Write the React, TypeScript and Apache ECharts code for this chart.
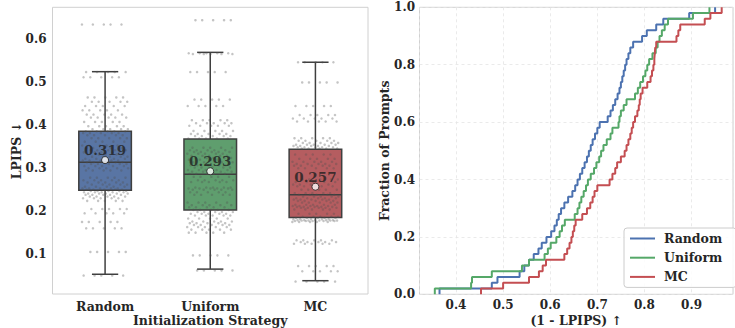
import React, { useEffect, useRef } from "react";
import * as echarts from "echarts";

// ---------- data ----------
const STRATEGIES = ["Random", "Uniform", "MC"];

// per-prompt similarity (1 - LPIPS), sorted (50 prompts each)
const RANDOM_SIM = [
  0.365, 0.476, 0.488, 0.535, 0.545, 0.555, 0.565, 0.575, 0.582, 0.592,
  0.602, 0.609, 0.614, 0.618, 0.623, 0.630, 0.638, 0.647, 0.653, 0.658,
  0.663, 0.668, 0.673, 0.678, 0.682, 0.686, 0.690, 0.695, 0.700, 0.705,
  0.722, 0.728, 0.733, 0.738, 0.743, 0.747, 0.750, 0.753, 0.756, 0.759,
  0.762, 0.766, 0.770, 0.776, 0.795, 0.805, 0.825, 0.840, 0.895, 0.950,
];
const UNIFORM_SIM = [
  0.355, 0.432, 0.434, 0.476, 0.540, 0.555, 0.588, 0.595, 0.601, 0.613,
  0.620, 0.625, 0.631, 0.652, 0.658, 0.662, 0.666, 0.671, 0.676, 0.680,
  0.686, 0.693, 0.698, 0.704, 0.708, 0.713, 0.720, 0.728, 0.732, 0.745,
  0.747, 0.750, 0.756, 0.762, 0.780, 0.786, 0.791, 0.797, 0.802, 0.806,
  0.810, 0.817, 0.824, 0.828, 0.832, 0.837, 0.843, 0.850, 0.903, 0.938,
];
const MC_SIM = [
  0.453, 0.500, 0.555, 0.576, 0.584, 0.591, 0.630, 0.636, 0.641, 0.645,
  0.648, 0.651, 0.654, 0.668, 0.678, 0.685, 0.690, 0.694, 0.700, 0.726,
  0.732, 0.738, 0.742, 0.750, 0.758, 0.762, 0.766, 0.770, 0.773, 0.776,
  0.780, 0.785, 0.788, 0.790, 0.792, 0.796, 0.806, 0.813, 0.816, 0.819,
  0.821, 0.822, 0.823, 0.825, 0.868, 0.872, 0.876, 0.928, 0.940, 0.964,
];
const SIM_DATA = [RANDOM_SIM, UNIFORM_SIM, MC_SIM];
const SAMPLES_PER_PROMPT = 5;

// box statistics of LPIPS: [whiskerLow, q1, median, q3, whiskerHigh]
const BOX_RANDOM = [0.053, 0.249, 0.314, 0.386, 0.525];
const BOX_UNIFORM = [0.065, 0.203, 0.286, 0.368, 0.570];
const BOX_MC = [0.038, 0.185, 0.238, 0.344, 0.547];
const BOX_STATS = [BOX_RANDOM, BOX_UNIFORM, BOX_MC];
const MEANS = [0.319, 0.293, 0.257];

// ---------- styles ----------
const BOX_COLORS = ["#5975A4", "#5F9E6E", "#B55D60"];
const LINE_COLORS = ["#4C72B0", "#55A868", "#C44E52"];
const FONT = "DejaVu Serif";
const TXT = "#262626";
const EDGE = "#3f3f3f";

export default function App() {
  const ref = useRef<HTMLDivElement>(null);

  useEffect(() => {
    if (!ref.current) return;
    const chart = echarts.init(ref.current, null, { renderer: "svg" });

    const boxData = BOX_STATS.map((s, i) => [i, ...s]);

    const stripData: number[][] = [];
    SIM_DATA.forEach((arr, ci) => {
      arr.forEach((v, i) => {
        for (let r = 0; r < SAMPLES_PER_PROMPT; r++) {
          const k = i * SAMPLES_PER_PROMPT + r + ci * 7;
          const j = ((k * 0.6180339887) % 1) - 0.5;
          stripData.push([ci + j * 0.44, +(1 - v).toFixed(3)]);
        }
      });
    });

    const meanData = MEANS.map((m, i) => [i, m]);

    const ecdf = (arr: number[]) => {
      const n = arr.length;
      const pts: number[][] = [[arr[0], 0]];
      arr.forEach((v, i) => pts.push([v, (i + 1) / n]));
      return pts;
    };

    const labelStyle = { fontFamily: FONT, fontWeight: "bold" as const, fontSize: 12, color: TXT };
    const nameStyle = { fontFamily: FONT, fontWeight: "bold" as const, fontSize: 12.5, color: TXT };

    const option: any = {
      animation: false,
      backgroundColor: "#ffffff",
      grid: [
        { left: 52.5, top: 7.3, width: 315.5, height: 286.7, show: true, borderColor: "#d0d0d0", borderWidth: 1, outerBoundsMode: "none", containLabel: false },
        { left: 419.5, top: 7.3, width: 313.5, height: 287, show: true, borderColor: "#d0d0d0", borderWidth: 1, outerBoundsMode: "none", containLabel: false },
      ],
      xAxis: [
        { type: "value", gridIndex: 0, min: -0.5, max: 2.5, show: false, position: "bottom" },
        {
          type: "category", gridIndex: 0, data: STRATEGIES, boundaryGap: true, position: "bottom",
          axisLine: { show: false }, axisTick: { show: false }, splitLine: { show: false },
          axisLabel: { ...labelStyle, fontSize: 12.5, margin: 6 },
          name: "Initialization Strategy", nameLocation: "middle", nameGap: 19.5, nameMoveOverlap: false, nameTextStyle: nameStyle,
        },
        {
          type: "value", gridIndex: 1, min: 0.3225, max: 0.988, position: "bottom",
          axisLine: { show: false }, axisTick: { show: false },
          splitLine: { show: true, lineStyle: { color: "#e4e4e4", type: [3, 3], width: 0.8 } },
          axisLabel: { ...labelStyle, margin: 5, showMinLabel: false, showMaxLabel: false, formatter: (v: number) => v.toFixed(1) },
          name: "(1 - LPIPS) ↑", nameLocation: "middle", nameGap: 19.5, nameMoveOverlap: false, nameTextStyle: nameStyle,
        },
      ],
      yAxis: [
        {
          type: "value", gridIndex: 0, min: 0.007, max: 0.675,
          axisLine: { show: false }, axisTick: { show: false }, splitLine: { show: false },
          axisLabel: { ...labelStyle, margin: 6, showMinLabel: false, showMaxLabel: false, formatter: (v: number) => v.toFixed(1) },
          name: "LPIPS ↓", nameLocation: "middle", nameGap: 30, nameMoveOverlap: false, nameTextStyle: nameStyle,
        },
        {
          type: "value", gridIndex: 1, min: 0, max: 1, interval: 0.2,
          axisLine: { show: false }, axisTick: { show: false },
          splitLine: { show: true, lineStyle: { color: "#e4e4e4", type: [3, 3], width: 0.8 } },
          axisLabel: { ...labelStyle, margin: 4.5, formatter: (v: number) => v.toFixed(1) },
          name: "Fraction of Prompts", nameLocation: "middle", nameGap: 29, nameMoveOverlap: false, nameTextStyle: nameStyle,
        },
      ],
      legend: {
        data: STRATEGIES,
        orient: "vertical",
        left: 624,
        top: 228,
        padding: [4, 14, 4, 6],
        icon: "rect",
        itemWidth: 25,
        itemHeight: 2,
        itemGap: 6.2,
        backgroundColor: "rgba(255,255,255,0.85)",
        borderColor: "#cccccc",
        borderWidth: 1,
        borderRadius: 3,
        textStyle: { ...nameStyle, fontSize: 12.5, padding: [0, 0, 0, 4] },
      },
      series: [
        {
          type: "custom",
          name: "boxes",
          xAxisIndex: 0,
          yAxisIndex: 0,
          z: 2,
          data: boxData,
          encode: { x: 0, y: [1, 2, 3, 4, 5] },
          renderItem: (params: any, api: any) => {
            const idx = api.value(0);
            const lo = api.coord([idx, api.value(1)]);
            const q1 = api.coord([idx, api.value(2)]);
            const md = api.coord([idx, api.value(3)]);
            const q3 = api.coord([idx, api.value(4)]);
            const hi = api.coord([idx, api.value(5)]);
            const bw = api.size([0.5, 0])[0];
            const cw = api.size([0.25, 0])[0];
            const x = lo[0];
            const ls = { stroke: EDGE, lineWidth: 1.5 };
            return {
              type: "group",
              children: [
                { type: "line", shape: { x1: x, y1: q1[1], x2: x, y2: lo[1] }, style: ls },
                { type: "line", shape: { x1: x, y1: q3[1], x2: x, y2: hi[1] }, style: ls },
                { type: "line", shape: { x1: x - cw / 2, y1: lo[1], x2: x + cw / 2, y2: lo[1] }, style: ls },
                { type: "line", shape: { x1: x - cw / 2, y1: hi[1], x2: x + cw / 2, y2: hi[1] }, style: ls },
                {
                  type: "rect",
                  shape: { x: x - bw / 2, y: q3[1], width: bw, height: q1[1] - q3[1] },
                  style: { fill: BOX_COLORS[idx], stroke: EDGE, lineWidth: 1.5 },
                },
                { type: "line", shape: { x1: x - bw / 2, y1: md[1], x2: x + bw / 2, y2: md[1] }, style: ls },
              ],
            };
          },
        },
        {
          type: "scatter",
          name: "strip",
          xAxisIndex: 0,
          yAxisIndex: 0,
          z: 3,
          symbolSize: 2.5,
          itemStyle: { color: "rgba(80,80,80,0.42)" },
          data: stripData,
          silent: true,
        },
        {
          type: "scatter",
          name: "means",
          xAxisIndex: 0,
          yAxisIndex: 0,
          z: 4,
          symbolSize: 7,
          itemStyle: { color: "#ffffff", borderColor: "#1a1a1a", borderWidth: 1 },
          label: {
            show: true,
            position: "inside",
            offset: [0, -10],
            formatter: (p: any) => p.value[1].toFixed(3),
            fontFamily: FONT,
            fontWeight: "bold",
            fontSize: 13.5,
            color: "#1f1f1f",
          },
          data: meanData,
        },
        ...STRATEGIES.map((name, i) => ({
          type: "line",
          name,
          xAxisIndex: 2,
          yAxisIndex: 1,
          step: "end",
          showSymbol: false,
          symbol: "none",
          z: 3,
          lineStyle: { color: LINE_COLORS[i], width: 2 },
          itemStyle: { color: LINE_COLORS[i] },
          data: ecdf(SIM_DATA[i]),
        })),
      ],
    };

    chart.setOption(option);
    return () => chart.dispose();
  }, []);

  return (
    <div
      ref={ref}
      style={{ position: "fixed", left: 0, top: 0, width: 735, height: 328, background: "#fff" }}
    />
  );
}
